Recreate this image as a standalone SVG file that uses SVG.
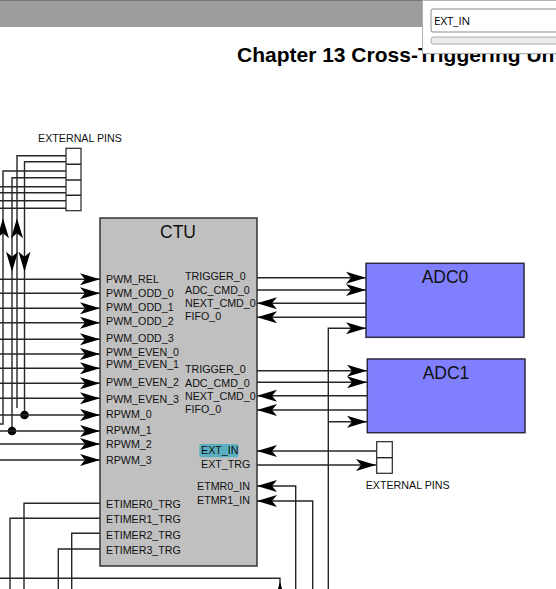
<svg xmlns="http://www.w3.org/2000/svg" width="556" height="589" viewBox="0 0 556 589">
<style>
.ln{fill:none;stroke:#262626;stroke-width:1.4}
.ar{marker-end:url(#arr)}
.lb{font-family:"Liberation Sans",Arial,sans-serif;font-size:10.7px;fill:#111}
.tt{font-family:"Liberation Sans",Arial,sans-serif;font-size:17.5px;fill:#111;text-anchor:middle}
.pin{fill:#fff;stroke:#262626;stroke-width:1.2}
.blk{fill:#c0c0c0;stroke:#333;stroke-width:1.5}
.adc{fill:#8080ff;stroke:#2a2a40;stroke-width:1.5}
.dot{fill:#000}
</style>
<defs>
<path id="ah" d="M0,0 L-20,-6 L-15,0 L-20,6 Z" fill="#000"/>
<marker id="arr" markerUnits="userSpaceOnUse" markerWidth="22" markerHeight="14" viewBox="-21 -7 22 14" refX="0" refY="0" orient="auto">
<path d="M0,0 L-20,-6 L-15,0 L-20,6 Z" fill="#000"/>
</marker>
</defs>
<rect width="556" height="589" fill="#fff"/>
<!-- viewer chrome -->
<rect x="0" y="0" width="556" height="27" fill="#9d9d9d"/>
<line x1="0" y1="0.5" x2="556" y2="0.5" stroke="#7a7a7a"/>
<text x="237" y="62" font-family="'Liberation Sans',Arial,sans-serif" font-weight="bold" font-size="21" fill="#000">Chapter 13 Cross-Triggering Un</text>
<g id="findbox">
<rect x="424" y="2" width="140" height="53" fill="#000" opacity="0.08"/>
<rect x="422.5" y="0.5" width="140" height="53" fill="#fff" stroke="#b0b0b0"/>
<rect x="431" y="9" width="130" height="23" rx="2" fill="#fff" stroke="#8a8a8a"/>
<text x="434" y="25" font-family="'Open Sans','Noto Sans',sans-serif" font-size="11.5" fill="#000">EXT_IN</text>
<rect x="431" y="37" width="130" height="7" rx="2.5" fill="#ececec" stroke="#a8a8a8"/>
</g>

<g id="connectors">
<!-- left external pins -->
<path class="ln" d="M66,155.7 H17 V408"/>
<path class="ln" d="M66,161.7 H24.5 V415"/>
<path class="ln" d="M66,171 H3 V424 H0"/>
<path class="ln" d="M66,177.7 H12 V431"/>
<path class="ln" d="M0,186.7 H66 M0,192.7 H66 M0,200.7 H66 M0,208.3 H66"/>
<use href="#ah" transform="translate(3,218.3) rotate(-90)"/>
<use href="#ah" transform="translate(17,218.3) rotate(-90)"/>
<use href="#ah" transform="translate(12,271.7) rotate(90)"/>
<use href="#ah" transform="translate(24.5,271.7) rotate(90)"/>
<circle class="dot" cx="24.5" cy="415" r="4.3"/>
<circle class="dot" cx="12" cy="431" r="4.3"/>
<!-- inputs to CTU -->
<path class="ln ar" d="M0,279.3 H100"/>
<path class="ln ar" d="M0,293.3 H100"/>
<path class="ln ar" d="M0,308.3 H100"/>
<path class="ln ar" d="M0,322.7 H100"/>
<path class="ln ar" d="M0,339.3 H100"/>
<path class="ln ar" d="M0,354 H100"/>
<path class="ln ar" d="M0,368.3 H100"/>
<path class="ln ar" d="M0,383.3 H100"/>
<path class="ln ar" d="M0,398.3 H100"/>
<path class="ln ar" d="M0,415 H100"/>
<path class="ln ar" d="M0,431 H100"/>
<path class="ln ar" d="M0,444 H100"/>
<path class="ln ar" d="M0,460 H100"/>
<!-- ETIMER outputs -->
<path class="ln" d="M100,503.3 H24 V589"/>
<path class="ln" d="M100,518.3 H10 V589"/>
<path class="ln" d="M100,533.3 H71.7 V589"/>
<path class="ln" d="M100,549 H58.3 V589"/>
<path class="ln" d="M0,578.3 H280 V589"/>
<use href="#ah" transform="translate(280,582) rotate(-90)"/>
<!-- CTU <-> ADC0 -->
<path class="ln ar" d="M257,277.7 H366"/>
<path class="ln ar" d="M257,290 H366"/>
<path class="ln ar" d="M366,303.3 H257"/>
<path class="ln ar" d="M366,317.3 H257"/>
<path class="ln ar" d="M328.3,589 V328.3 H366"/>
<!-- CTU <-> ADC1 -->
<path class="ln ar" d="M257,370.7 H367"/>
<path class="ln ar" d="M257,382.3 H367"/>
<path class="ln ar" d="M367,395.7 H257"/>
<path class="ln ar" d="M367,410 H257"/>
<path class="ln ar" d="M328.3,421.7 H367"/>
<!-- EXT -->
<path class="ln ar" d="M377,451 H257"/>
<path class="ln ar" d="M257,465 H376"/>
<!-- ETMR -->
<path class="ln ar" d="M295.7,589 V486 H257"/>
<path class="ln ar" d="M312.7,589 V501 H257"/>
</g>

<g id="pins-top">
<rect class="pin" x="66" y="148.3" width="15" height="62.4"/>
<path class="ln" d="M66,164.3 H81 M66,180 H81 M66,195.3 H81"/>
<text class="lb" x="38" y="142" font-size="10.3">EXTERNAL PINS</text>
</g>

<g id="ctu">
<rect class="blk" x="100" y="218" width="157" height="348"/>
<text class="tt" x="178" y="238">CTU</text>
<g class="lb">
<text x="106" y="283">PWM_REL</text>
<text x="106" y="297">PWM_ODD_0</text>
<text x="106" y="311">PWM_ODD_1</text>
<text x="106" y="325">PWM_ODD_2</text>
<text x="106" y="342">PWM_ODD_3</text>
<text x="106" y="356">PWM_EVEN_0</text>
<text x="106" y="368">PWM_EVEN_1</text>
<text x="106" y="386">PWM_EVEN_2</text>
<text x="106" y="403">PWM_EVEN_3</text>
<text x="106" y="418">RPWM_0</text>
<text x="106" y="434">RPWM_1</text>
<text x="106" y="448">RPWM_2</text>
<text x="106" y="464">RPWM_3</text>
<text x="106" y="508">ETIMER0_TRG</text>
<text x="106" y="523">ETIMER1_TRG</text>
<text x="106" y="539">ETIMER2_TRG</text>
<text x="106" y="554">ETIMER3_TRG</text>
<text x="185" y="280">TRIGGER_0</text>
<text x="185" y="294">ADC_CMD_0</text>
<text x="185" y="307">NEXT_CMD_0</text>
<text x="185" y="320">FIFO_0</text>
<text x="185" y="373">TRIGGER_0</text>
<text x="185" y="387">ADC_CMD_0</text>
<text x="185" y="400">NEXT_CMD_0</text>
<text x="185" y="413">FIFO_0</text>
<rect x="199.3" y="444" width="39" height="13.3" rx="2" fill="#5aaec0"/>
<text x="201" y="454">EXT_IN</text>
<text x="201" y="468">EXT_TRG</text>
<text x="197" y="490">ETMR0_IN</text>
<text x="197" y="504">ETMR1_IN</text>
</g>
</g>

<g id="adc0">
<rect class="adc" x="366" y="263.3" width="158" height="74"/>
<text class="tt" x="445" y="283">ADC0</text>
</g>
<g id="adc1">
<rect class="adc" x="367.3" y="359" width="157.7" height="73.7"/>
<text class="tt" x="446" y="379">ADC1</text>
</g>
<g id="pins-right">
<rect class="pin" x="376.7" y="441.7" width="15.6" height="31.6"/>
<path class="ln" d="M376.7,457.7 H392.3"/>
<text class="lb" x="365.7" y="488.5" font-size="10.3">EXTERNAL PINS</text>
</g>
</svg>
